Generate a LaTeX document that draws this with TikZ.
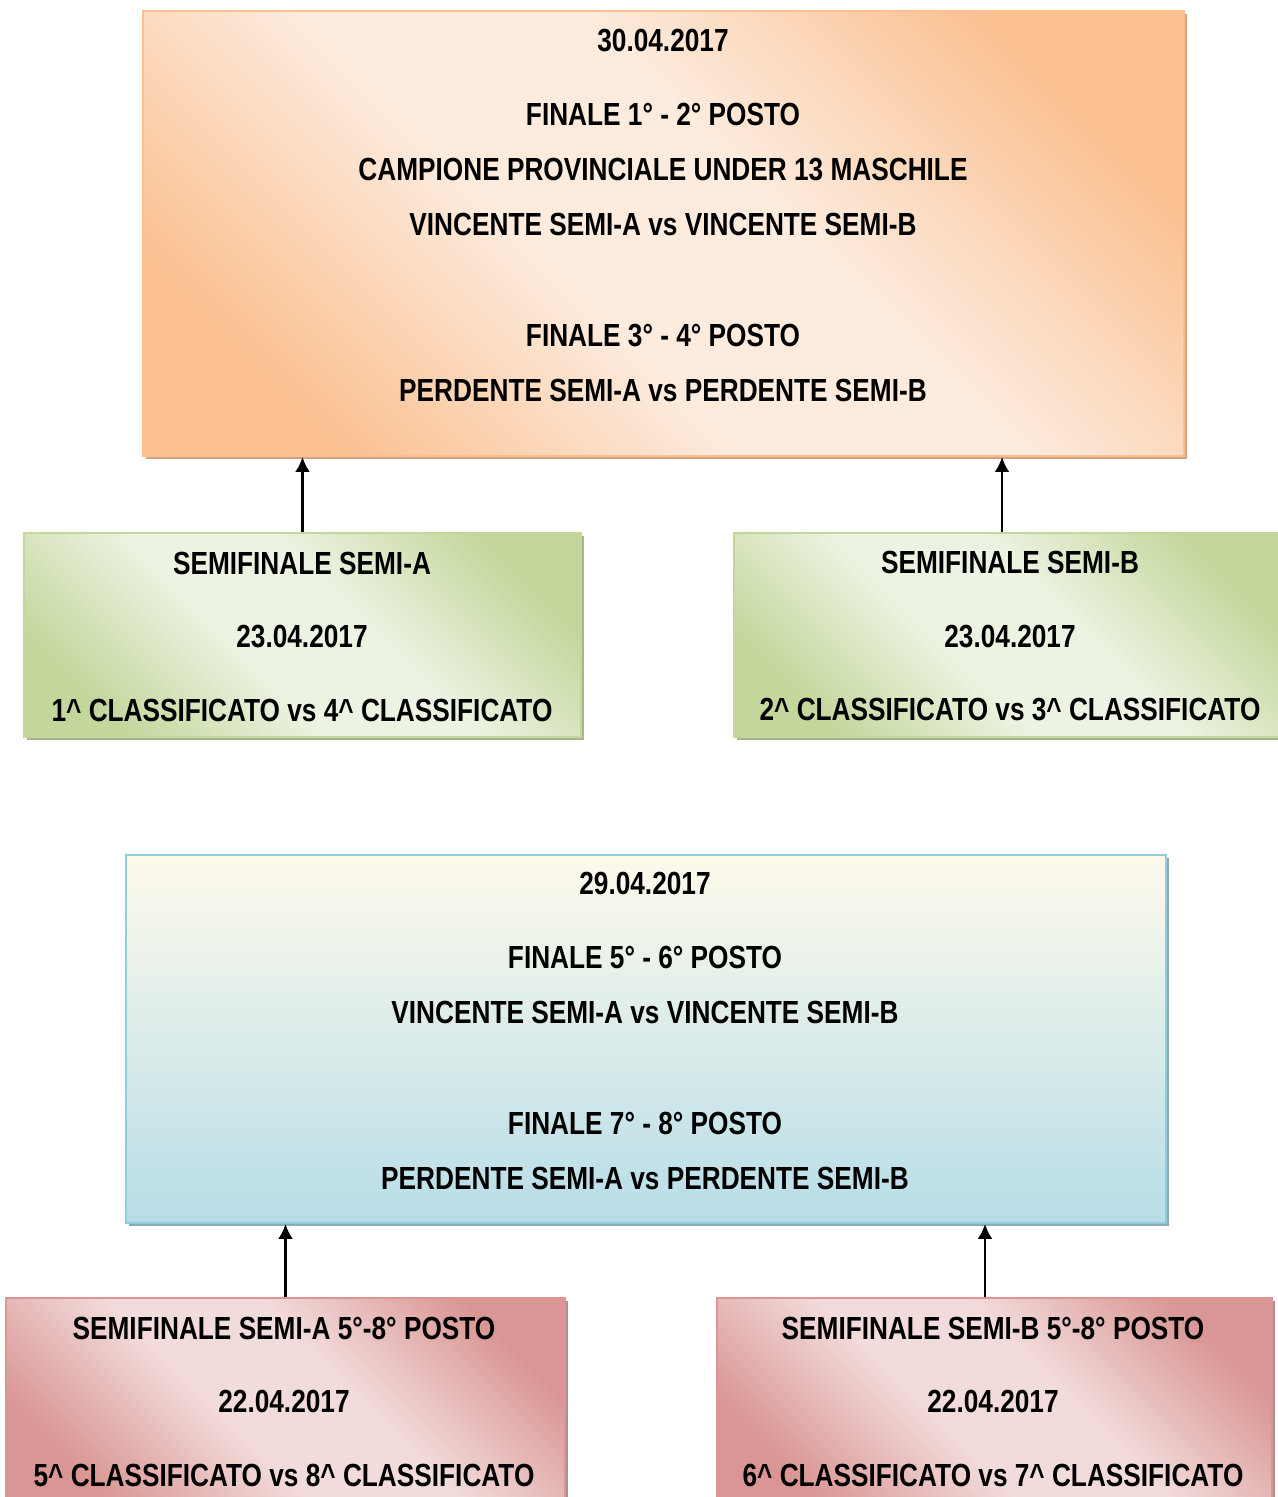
\documentclass[tikz,border=0pt]{standalone}
\usepackage{fontspec}
\setmainfont{Liberation Sans}[FakeStretch=0.82]
\usetikzlibrary{arrows.meta,shadows}
\definecolor{orng}{HTML}{FAC090}
\definecolor{orngl}{HTML}{FDEBDD}
\definecolor{orngsh}{HTML}{D2A282}
\definecolor{grn}{HTML}{C3D69B}
\definecolor{grnl}{HTML}{EDF3E2}
\definecolor{grnsh}{HTML}{A8B393}
\definecolor{blu}{HTML}{B7DDE8}
\definecolor{blul}{HTML}{FEFAEB}
\definecolor{blubd}{HTML}{93CDDD}
\definecolor{blush}{HTML}{8FAAB3}
\definecolor{pnk}{HTML}{D99694}
\definecolor{pnkl}{HTML}{F2DCDB}
\definecolor{pnksh}{HTML}{A99190}
\pgfdeclarehorizontalshading{orngdiag}{100bp}{color(0bp)=(orng); color(24bp)=(orng); color(43bp)=(orngl); color(57bp)=(orngl); color(76bp)=(orng); color(100bp)=(orng)}
\pgfdeclarehorizontalshading{grndiag}{100bp}{color(0bp)=(grn); color(24bp)=(grn); color(43bp)=(grnl); color(57bp)=(grnl); color(76bp)=(grn); color(100bp)=(grn)}
\pgfdeclarehorizontalshading{pnkdiag}{100bp}{color(0bp)=(pnk); color(24bp)=(pnk); color(43bp)=(pnkl); color(57bp)=(pnkl); color(76bp)=(pnk); color(100bp)=(pnk)}
\begin{document}
\begin{tikzpicture}

      \tikzset{box/.style={rectangle, inner sep=0pt, line width=1.1pt},
               shd/.style={drop shadow={shadow xshift=0.06cm, shadow yshift=-0.06cm, fill=#1, opacity=1}},
               diag/.style={draw=#1, shading=#1diag, shading angle=45},
               txt/.style={align=center, inner sep=0pt, font=\fontsize{18.2}{31.3}\selectfont\bfseries},
               arrow/.style={-{Latex[length=0.3cm, width=0.3cm]}, line width=1.5pt, black}}
      \useasboundingbox (0,0) rectangle (25.54,-29.94);
%% Boxes
      	\node[box, diag=orng, shd=orngsh, minimum width=20.82cm, minimum height=8.9cm] (fin12) at (13.27,-4.67) {};
      	\node[box, diag=grn, shd=grnsh, minimum width=11.14cm, minimum height=4.08cm] (semiA) at (6.05,-12.70) {};
      	\node[box, diag=grn, shd=grnsh, minimum width=11.04cm, minimum height=4.08cm] (semiB) at (20.2,-12.70) {};
      	\node[box, draw=blubd, top color=blul, bottom color=blu, shd=blush, minimum width=20.8cm, minimum height=7.36cm] (fin56) at (12.92,-20.78) {};
      	\node[box, diag=pnk, shd=pnksh, minimum width=11.18cm, minimum height=4.08cm] (semiAp) at (5.71,-28.0) {};
      	\node[box, diag=pnk, shd=pnksh, minimum width=11.1cm, minimum height=4.08cm] (semiBp) at (19.89,-28.0) {};
%% Texts
      	\node[txt] (fin12txt) at (13.26,-4.31) {30.04.2017\\[0.38cm] FINALE 1° - 2° POSTO\\ CAMPIONE PROVINCIALE UNDER 13 MASCHILE\\ VINCENTE SEMI-A vs VINCENTE SEMI-B\\[1.12cm] FINALE 3° - 4° POSTO\\ PERDENTE SEMI-A vs PERDENTE SEMI-B};
      	\node[txt] (semiAtxt) at (6.04,-12.73) {SEMIFINALE SEMI-A\\[0.37cm] 23.04.2017\\[0.37cm] 1\^{} CLASSIFICATO vs 4\^{} CLASSIFICATO};
      	\node[txt] (semiBtxt) at (20.2,-12.73) {SEMIFINALE SEMI-B\\[0.37cm] 23.04.2017\\[0.37cm] 2\^{} CLASSIFICATO vs 3\^{} CLASSIFICATO};
      	\node[txt] (fin56txt) at (12.9,-20.62) {29.04.2017\\[0.38cm] FINALE 5° - 6° POSTO\\ VINCENTE SEMI-A vs VINCENTE SEMI-B\\[1.12cm] FINALE 7° - 8° POSTO\\ PERDENTE SEMI-A vs PERDENTE SEMI-B};
      	\node[txt] (semiAptxt) at (5.68,-28.03) {SEMIFINALE SEMI-A 5°-8° POSTO\\[0.37cm] 22.04.2017\\[0.37cm] 5\^{} CLASSIFICATO vs 8\^{} CLASSIFICATO};
      	\node[txt] (semiBptxt) at (19.86,-28.03) {SEMIFINALE SEMI-B 5°-8° POSTO\\[0.37cm] 22.04.2017\\[0.37cm] 6\^{} CLASSIFICATO vs 7\^{} CLASSIFICATO};
%Arrows
		\draw [arrow] (semiA.north) -- (semiA.north |- fin12.south);
		\draw [arrow] ([xshift=-0.16cm]semiB.north) -- ([xshift=-0.16cm]semiB.north |- fin12.south);
		\draw [arrow] (semiAp.north) -- (semiAp.north |- fin56.south);
		\draw [arrow] ([xshift=-0.19cm]semiBp.north) -- ([xshift=-0.19cm]semiBp.north |- fin56.south);

	\end{tikzpicture}
\end{document}
